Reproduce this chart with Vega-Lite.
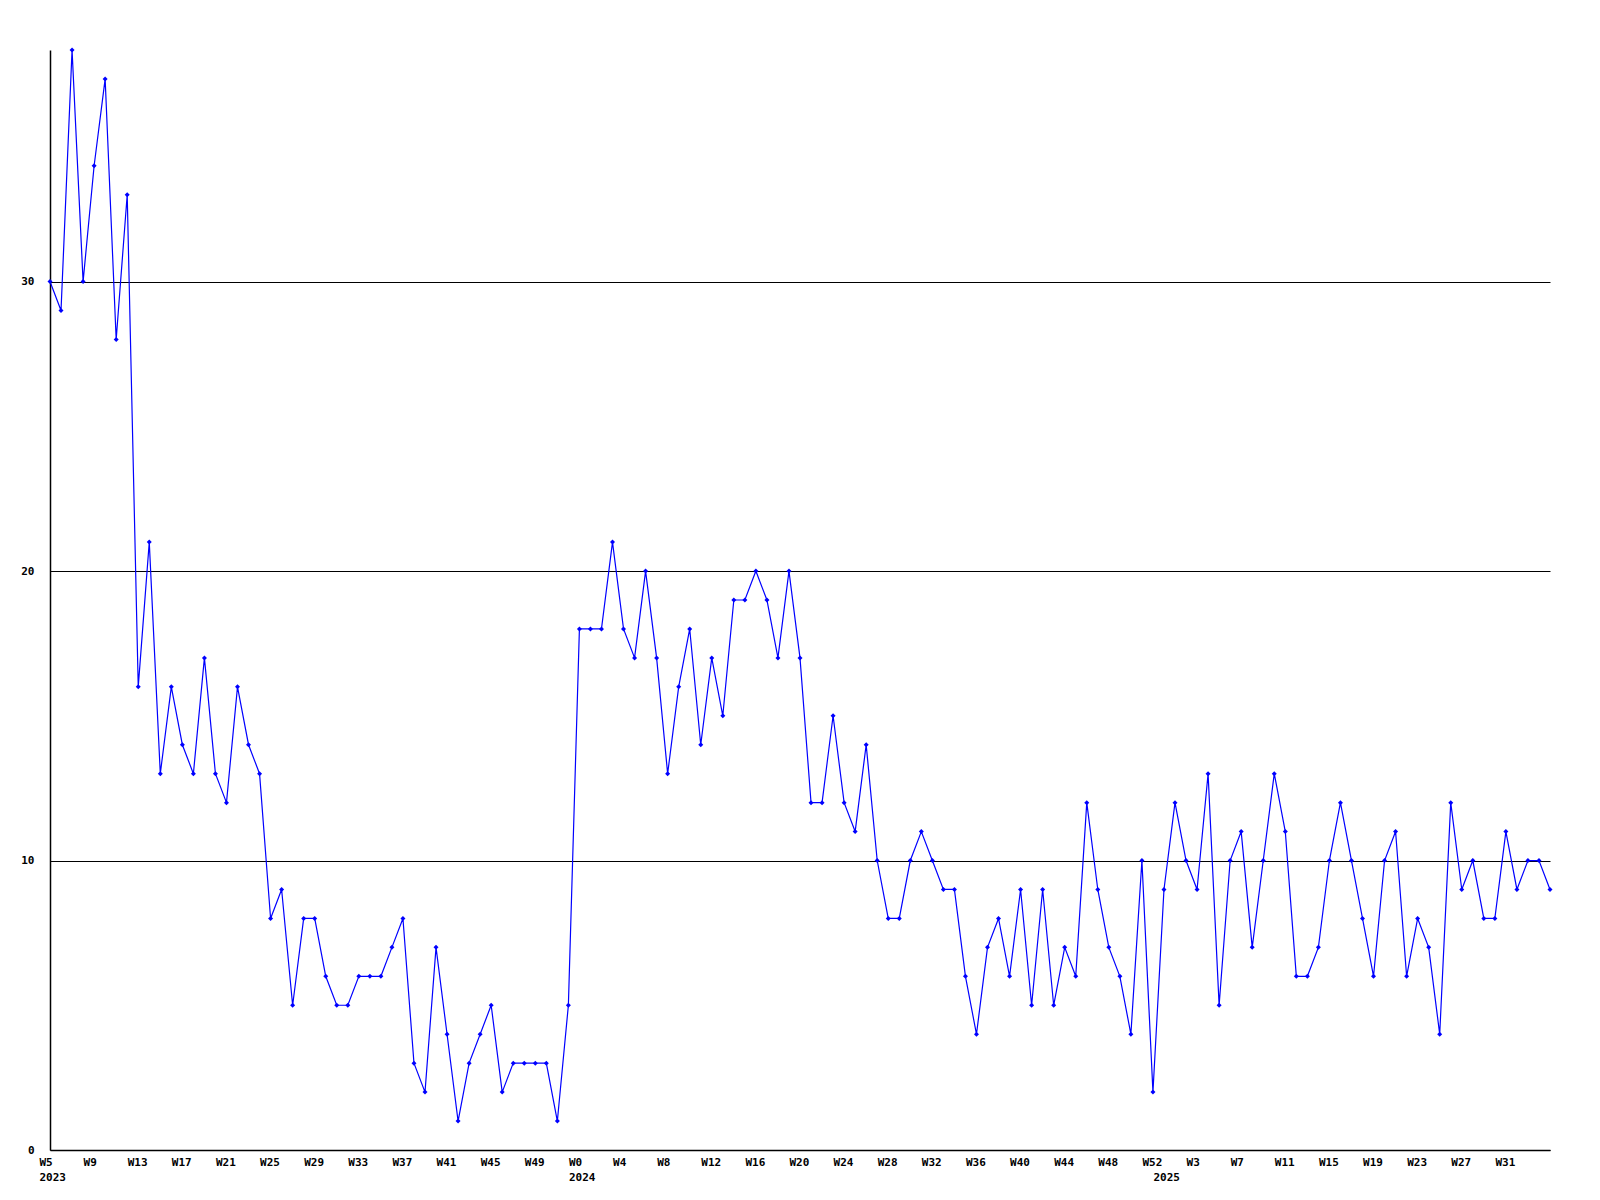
{
  "$schema": "https://vega.github.io/schema/vega-lite/v6.json",
  "width": 1500,
  "height": 1100,
  "autosize": "none",
  "padding": {"left": 50, "top": 50, "right": 50, "bottom": 50},
  "background": "white",
  "config": {
    "view": {"stroke": null},
    "font": "DejaVu Sans Mono"
  },
  "data": {
    "values": [
      {"week": "2023 W5", "value": 30}, {"week": "2023 W6", "value": 29}, {"week": "2023 W7", "value": 38}, {"week": "2023 W8", "value": 30},
      {"week": "2023 W9", "value": 34}, {"week": "2023 W10", "value": 37}, {"week": "2023 W11", "value": 28}, {"week": "2023 W12", "value": 33},
      {"week": "2023 W13", "value": 16}, {"week": "2023 W14", "value": 21}, {"week": "2023 W15", "value": 13}, {"week": "2023 W16", "value": 16},
      {"week": "2023 W17", "value": 14}, {"week": "2023 W18", "value": 13}, {"week": "2023 W19", "value": 17}, {"week": "2023 W20", "value": 13},
      {"week": "2023 W21", "value": 12}, {"week": "2023 W22", "value": 16}, {"week": "2023 W23", "value": 14}, {"week": "2023 W24", "value": 13},
      {"week": "2023 W25", "value": 8}, {"week": "2023 W26", "value": 9}, {"week": "2023 W27", "value": 5}, {"week": "2023 W28", "value": 8},
      {"week": "2023 W29", "value": 8}, {"week": "2023 W30", "value": 6}, {"week": "2023 W31", "value": 5}, {"week": "2023 W32", "value": 5},
      {"week": "2023 W33", "value": 6}, {"week": "2023 W34", "value": 6}, {"week": "2023 W35", "value": 6}, {"week": "2023 W36", "value": 7},
      {"week": "2023 W37", "value": 8}, {"week": "2023 W38", "value": 3}, {"week": "2023 W39", "value": 2}, {"week": "2023 W40", "value": 7},
      {"week": "2023 W41", "value": 4}, {"week": "2023 W42", "value": 1}, {"week": "2023 W43", "value": 3}, {"week": "2023 W44", "value": 4},
      {"week": "2023 W45", "value": 5}, {"week": "2023 W46", "value": 2}, {"week": "2023 W47", "value": 3}, {"week": "2023 W48", "value": 3},
      {"week": "2023 W49", "value": 3}, {"week": "2023 W50", "value": 3}, {"week": "2023 W51", "value": 1}, {"week": "2023 W52", "value": 5},
      {"week": "2024 W0", "value": 18}, {"week": "2024 W1", "value": 18}, {"week": "2024 W2", "value": 18}, {"week": "2024 W3", "value": 21},
      {"week": "2024 W4", "value": 18}, {"week": "2024 W5", "value": 17}, {"week": "2024 W6", "value": 20}, {"week": "2024 W7", "value": 17},
      {"week": "2024 W8", "value": 13}, {"week": "2024 W9", "value": 16}, {"week": "2024 W10", "value": 18}, {"week": "2024 W11", "value": 14},
      {"week": "2024 W12", "value": 17}, {"week": "2024 W13", "value": 15}, {"week": "2024 W14", "value": 19}, {"week": "2024 W15", "value": 19},
      {"week": "2024 W16", "value": 20}, {"week": "2024 W17", "value": 19}, {"week": "2024 W18", "value": 17}, {"week": "2024 W19", "value": 20},
      {"week": "2024 W20", "value": 17}, {"week": "2024 W21", "value": 12}, {"week": "2024 W22", "value": 12}, {"week": "2024 W23", "value": 15},
      {"week": "2024 W24", "value": 12}, {"week": "2024 W25", "value": 11}, {"week": "2024 W26", "value": 14}, {"week": "2024 W27", "value": 10},
      {"week": "2024 W28", "value": 8}, {"week": "2024 W29", "value": 8}, {"week": "2024 W30", "value": 10}, {"week": "2024 W31", "value": 11},
      {"week": "2024 W32", "value": 10}, {"week": "2024 W33", "value": 9}, {"week": "2024 W34", "value": 9}, {"week": "2024 W35", "value": 6},
      {"week": "2024 W36", "value": 4}, {"week": "2024 W37", "value": 7}, {"week": "2024 W38", "value": 8}, {"week": "2024 W39", "value": 6},
      {"week": "2024 W40", "value": 9}, {"week": "2024 W41", "value": 5}, {"week": "2024 W42", "value": 9}, {"week": "2024 W43", "value": 5},
      {"week": "2024 W44", "value": 7}, {"week": "2024 W45", "value": 6}, {"week": "2024 W46", "value": 12}, {"week": "2024 W47", "value": 9},
      {"week": "2024 W48", "value": 7}, {"week": "2024 W49", "value": 6}, {"week": "2024 W50", "value": 4}, {"week": "2024 W51", "value": 10},
      {"week": "2024 W52", "value": 2},
      {"week": "2025 W0", "value": 9}, {"week": "2025 W1", "value": 12}, {"week": "2025 W2", "value": 10}, {"week": "2025 W3", "value": 9},
      {"week": "2025 W4", "value": 13}, {"week": "2025 W5", "value": 5}, {"week": "2025 W6", "value": 10}, {"week": "2025 W7", "value": 11},
      {"week": "2025 W8", "value": 7}, {"week": "2025 W9", "value": 10}, {"week": "2025 W10", "value": 13}, {"week": "2025 W11", "value": 11},
      {"week": "2025 W12", "value": 6}, {"week": "2025 W13", "value": 6}, {"week": "2025 W14", "value": 7}, {"week": "2025 W15", "value": 10},
      {"week": "2025 W16", "value": 12}, {"week": "2025 W17", "value": 10}, {"week": "2025 W18", "value": 8}, {"week": "2025 W19", "value": 6},
      {"week": "2025 W20", "value": 10}, {"week": "2025 W21", "value": 11}, {"week": "2025 W22", "value": 6}, {"week": "2025 W23", "value": 8},
      {"week": "2025 W24", "value": 7}, {"week": "2025 W25", "value": 4}, {"week": "2025 W26", "value": 12}, {"week": "2025 W27", "value": 9},
      {"week": "2025 W28", "value": 10}, {"week": "2025 W29", "value": 8}, {"week": "2025 W30", "value": 8}, {"week": "2025 W31", "value": 11},
      {"week": "2025 W32", "value": 9}, {"week": "2025 W33", "value": 10}, {"week": "2025 W34", "value": 10}, {"week": "2025 W35", "value": 9}
    ]
  },
  "encoding": {
    "x": {
      "field": "week",
      "type": "ordinal",
      "sort": null,
      "scale": {"type": "point", "padding": 0},
      "axis": {
        "title": null,
        "values": ["2023 W5", "2023 W9", "2023 W13", "2023 W17", "2023 W21", "2023 W25", "2023 W29", "2023 W33", "2023 W37", "2023 W41", "2023 W45", "2023 W49",
                   "2024 W0", "2024 W4", "2024 W8", "2024 W12", "2024 W16", "2024 W20", "2024 W24", "2024 W28", "2024 W32", "2024 W36", "2024 W40", "2024 W44", "2024 W48", "2024 W52",
                   "2025 W0", "2025 W3", "2025 W7", "2025 W11", "2025 W15", "2025 W19", "2025 W23", "2025 W27", "2025 W31"],
        "labelExpr": "datum.value == '2025 W0' ? ['', '2025'] : ((datum.value == '2023 W5' || datum.value == '2024 W0') ? [split(datum.value, ' ')[1], split(datum.value, ' ')[0]] : split(datum.value, ' ')[1])",
        "labelAngle": 0,
        "labelAlign": "left",
        "labelBaseline": "top",
        "labelOffset": -11,
        "labelPadding": 6,
        "labelLineHeight": 15,
        "labelFont": "DejaVu Sans Mono",
        "labelFontWeight": "bold",
        "labelFontSize": 11,
        "labelColor": "black",
        "labelOverlap": false,
        "labelFlush": false,
        "ticks": false,
        "tickSize": 0,
        "grid": false,
        "domainColor": "black",
        "domainWidth": 1.5
      }
    },
    "y": {
      "field": "value",
      "type": "quantitative",
      "scale": {"domain": [0, 38], "nice": false, "zero": true},
      "axis": {
        "title": null,
        "values": [0, 10, 20, 30],
        "grid": true,
        "gridColor": "black",
        "gridOpacity": 1,
        "gridWidth": 1.2,
        "ticks": false,
        "tickSize": 0,
        "labelPadding": 16,
        "labelFont": "DejaVu Sans Mono",
        "labelFontWeight": "bold",
        "labelFontSize": 11,
        "labelColor": "black",
        "labelFlush": false,
        "domainColor": "black",
        "domainWidth": 1.5
      }
    }
  },
  "layer": [
    {"mark": {"type": "line", "color": "#0000ff", "strokeWidth": 1.2}},
    {"mark": {"type": "point", "shape": "diamond", "filled": true, "color": "#0000ff", "size": 25, "opacity": 1}}
  ]
}
